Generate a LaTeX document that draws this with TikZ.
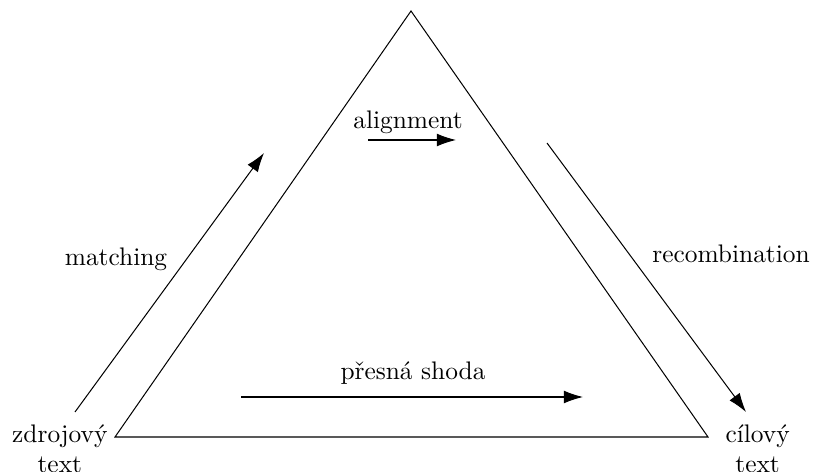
\documentclass[tikz,border=0pt]{standalone}
\usepackage{amsmath}
\usepackage{tikz}
\usetikzlibrary{arrows.meta, calc, positioning}

\begin{document}
\begin{tikzpicture}[x=0.01384cm, y=-0.01384cm,
    flow/.style={-{Latex[length=7.5pt,width=5pt]}},
    lbl/.style={inner sep=0pt}]
    \useasboundingbox (0,0) rectangle (815,472);
    \coordinate (src) at (115,437);
    \coordinate (top) at (411,11);
    \coordinate (tgt) at (708,437);

    \draw (src) -- (top) -- (tgt) -- cycle;

    \node[align=center, anchor=north east, inner sep=0pt] (srctext) at ($(src)+(-7,-13)$) {zdrojový\\text};
    \node[align=center, anchor=north west, inner sep=0pt] (tgttext) at ($(tgt)+(17,-13)$) {cílový\\text};

    \coordinate (m1) at (75,412);
    \coordinate (m2) at (264,153);
    \draw[flow] (m1) -- (m2);
    \node[lbl] (matching) at (116,259) {matching};

    \coordinate (a1) at (368,140);
    \coordinate (a2) at (456,140);
    \draw[flow] (a1) -- (a2);
    \node[lbl] (alignment) at (408,122) {alignment};

    \coordinate (r1) at (547,143);
    \coordinate (r2) at (746,412);
    \draw[flow] (r1) -- (r2);
    \node[lbl] (recomb) at (731,254) {recombination};

    \coordinate (e1) at (241,397);
    \coordinate (e2) at (583,397);
    \draw[flow] (e1) -- (e2);
    \node[lbl] (exact) at (413,373) {přesná shoda};
\end{tikzpicture}
\end{document}
